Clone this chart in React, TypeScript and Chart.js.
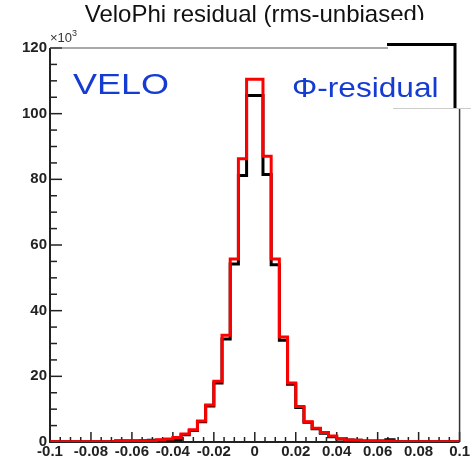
import React, { useEffect, useRef } from "react";
import { Chart, registerables } from "chart.js";

Chart.register(...registerables);

// ---- data (counts in thousands) ----
const TITLE = "VeloPhi residual (rms-unbiased)";
const LABEL_LEFT = "VELO";
const LABEL_RIGHT = "Φ-residual";

const BIN_EDGES = [
  -0.1, -0.096, -0.092, -0.088, -0.084, -0.08, -0.076, -0.072, -0.068, -0.064,
  -0.06, -0.056, -0.052, -0.048, -0.044, -0.04, -0.036, -0.032, -0.028, -0.024,
  -0.02, -0.016, -0.012, -0.008, -0.004, 0, 0.004, 0.008, 0.012, 0.016,
  0.02, 0.024, 0.028, 0.032, 0.036, 0.04, 0.044, 0.048, 0.052, 0.056,
  0.06, 0.064, 0.068, 0.072, 0.076, 0.08, 0.084, 0.088, 0.092, 0.096, 0.1,
];

const RED_COUNTS = [
  0.1, 0.1, 0.1, 0.1, 0.1, 0.1, 0.1, 0.1, 0.4, 0.4,
  0.4, 0.4, 0.4, 0.7, 0.9, 1.4, 2.4, 3.7, 6.4, 11.3,
  18.5, 32.5, 55.7, 86.3, 110.5, 110.5, 87.0, 55.7, 32.0, 18.0,
  10.8, 6.2, 4.2, 2.9, 1.8, 1.0, 0.6, 0.5, 0.3, 0.3,
  0.3, 0.3, 0.1, 0.1, 0.1, 0.1, 0.1, 0.1, 0.1, 0.1,
];

const BLACK_COUNTS = [
  0.1, 0.1, 0.1, 0.1, 0.1, 0.1, 0.1, 0.1, 0.3, 0.3,
  0.3, 0.4, 0.5, 0.5, 0.6, 0.7, 2.2, 3.5, 6.2, 11.0,
  18.0, 31.4, 54.2, 81.2, 105.5, 105.5, 81.5, 54.0, 31.0, 17.6,
  10.5, 6.0, 4.0, 2.7, 1.6, 0.9, 0.6, 0.5, 0.3, 0.3,
  0.3, 0.7, 0.1, 0.1, 0.1, 0.1, 0.1, 0.1, 0.1, 0.1,
];

const X_MIN = -0.1;
const X_MAX = 0.1;
const X_MAJOR = 0.02;
const X_MINOR = 0.005;
const Y_MIN = 0;
const Y_MAX = 120;
const Y_MAJOR = 20;
const Y_MINOR = 5;

const FONT = "'Liberation Sans', Arial, Helvetica, sans-serif";

function toSteps(edges: number[], counts: number[]) {
  const pts = counts.map((c, i) => ({ x: edges[i], y: c }));
  pts.push({ x: edges[edges.length - 1], y: counts[counts.length - 1] });
  return pts;
}

const framePlugin = {
  id: "rootFrame",
  beforeDatasetsDraw(chart: any) {
    const { ctx, chartArea: a, scales } = chart;
    const xs = scales.x;
    const ys = scales.y;
    ctx.save();
    ctx.strokeStyle = "#222";
    ctx.lineWidth = 1.5;
    // y ticks (inward)
    const ny = Math.round((Y_MAX - Y_MIN) / Y_MINOR);
    for (let k = 0; k <= ny; k++) {
      const v = Y_MIN + k * Y_MINOR;
      const py = ys.getPixelForValue(v);
      const major = Math.abs(v / Y_MAJOR - Math.round(v / Y_MAJOR)) < 1e-6;
      const len = major ? 12 : 7;
      ctx.beginPath();
      ctx.moveTo(a.left, py);
      ctx.lineTo(a.left + len, py);
      ctx.stroke();
    }
    // x ticks (inward)
    const nx = Math.round((X_MAX - X_MIN) / X_MINOR);
    for (let k = 0; k <= nx; k++) {
      const v = X_MIN + k * X_MINOR;
      const px = xs.getPixelForValue(v);
      const r = v / X_MAJOR;
      const major = Math.abs(r - Math.round(r)) < 1e-6;
      const len = major ? 10 : 5;
      ctx.beginPath();
      ctx.moveTo(px, a.bottom);
      ctx.lineTo(px, a.bottom - len);
      ctx.stroke();
    }
    // frame
    ctx.strokeStyle = "#222";
    ctx.lineWidth = 2;
    ctx.beginPath();
    ctx.moveTo(a.left, a.top);
    ctx.lineTo(a.left, a.bottom);
    ctx.lineTo(a.right, a.bottom);
    ctx.stroke();
    ctx.lineWidth = 1.5;
    ctx.strokeStyle = "#333";
    ctx.beginPath();
    ctx.moveTo(a.right, 108);
    ctx.lineTo(a.right, a.bottom);
    ctx.stroke();
    ctx.strokeStyle = "#555";
    ctx.lineWidth = 1.2;
    ctx.beginPath();
    ctx.moveTo(a.left, a.top);
    ctx.lineTo(388, a.top);
    ctx.stroke();
    ctx.restore();
  },
  afterDraw(chart: any) {
    const { ctx, chartArea: a } = chart;
    ctx.save();
    // pasted white box in top-right corner
    ctx.fillStyle = "#fff";
    ctx.fillRect(388, 20, 83, 88);
    ctx.strokeStyle = "#ccc";
    ctx.lineWidth = 1;
    ctx.beginPath();
    ctx.moveTo(393, 108.5);
    ctx.lineTo(471, 108.5);
    ctx.stroke();
    ctx.strokeStyle = "#000";
    ctx.lineWidth = 3;
    ctx.beginPath();
    ctx.moveTo(387, 44.5);
    ctx.lineTo(455, 44.5);
    ctx.lineTo(455, 108);
    ctx.stroke();

    // ×10^3
    ctx.fillStyle = "#333";
    ctx.textBaseline = "alphabetic";
    ctx.textAlign = "left";
    ctx.font = `13px ${FONT}`;
    ctx.fillText("×10", a.left, 42);
    const w = ctx.measureText("×10").width;
    ctx.font = `9px ${FONT}`;
    ctx.fillText("3", a.left + w, 36);

    // blue labels
    ctx.fillStyle = "rgb(20,60,210)";
    ctx.save();
    ctx.translate(73, 93.5);
    ctx.scale(1.2, 1);
    ctx.font = `30px ${FONT}`;
    ctx.fillText(LABEL_LEFT, 0, 0);
    ctx.restore();
    ctx.save();
    ctx.translate(292, 96.5);
    ctx.scale(1.13, 1);
    ctx.font = `28px ${FONT}`;
    ctx.fillText(LABEL_RIGHT, 0, 0);
    ctx.restore();
    ctx.restore();
  },
};

export default function App() {
  const ref = useRef<HTMLCanvasElement>(null);
  useEffect(() => {
    if (!ref.current) return;
    Chart.defaults.font.family = FONT;
    const chart = new Chart(ref.current, {
      type: "line",
      data: {
        datasets: [
          {
            label: "red",
            data: toSteps(BIN_EDGES, RED_COUNTS),
            borderColor: "#ff0000",
            borderWidth: 3,
            stepped: "before",
            pointRadius: 0,
            fill: false,
            tension: 0,
            order: 0,
            borderJoinStyle: "miter",
          },
          {
            label: "black",
            data: toSteps(BIN_EDGES, BLACK_COUNTS),
            borderColor: "#000000",
            borderWidth: 3,
            stepped: "before",
            pointRadius: 0,
            fill: false,
            tension: 0,
            order: 1,
            borderJoinStyle: "miter",
          },
        ],
      },
      options: {
        animation: false,
        responsive: false,
        devicePixelRatio: 1,
        layout: { padding: { left: 0, right: 11, top: 0, bottom: 0 } },
        plugins: {
          legend: { display: false },
          tooltip: { enabled: false },
          title: {
            display: true,
            text: TITLE,
            fullSize: false,
            color: "#111",
            font: { size: 24, weight: "normal", family: FONT, lineHeight: 1.2 },
            padding: { top: 0.6, bottom: 18.6 },
          },
        },
        scales: {
          x: {
            type: "linear",
            min: X_MIN,
            max: X_MAX,
            grid: { display: false, drawTicks: false },
            border: { display: false },
            afterFit: (s: any) => {
              s.height = 17;
            },
            ticks: {
              stepSize: X_MAJOR,
              autoSkip: false,
              maxRotation: 0,
              padding: 1,
              color: "#222",
              font: { size: 15, weight: "bold", family: FONT },
              callback: (v: any) => String(Math.round(Number(v) * 100) / 100),
            },
          },
          y: {
            type: "linear",
            min: Y_MIN,
            max: Y_MAX,
            grid: { display: false, drawTicks: false },
            border: { display: false },
            afterFit: (s: any) => {
              s.width = 50;
            },
            ticks: {
              stepSize: Y_MAJOR,
              padding: 3,
              color: "#222",
              font: { size: 15, weight: "bold", family: FONT },
            },
          },
        },
      },
      plugins: [framePlugin],
    } as any);
    return () => chart.destroy();
  }, []);
  return (
    <div style={{ position: "fixed", left: 0, top: 0, width: 471, height: 459, background: "#fff" }}>
      <canvas ref={ref} width={471} height={459} style={{ display: "block", width: 471, height: 459 }} />
    </div>
  );
}
